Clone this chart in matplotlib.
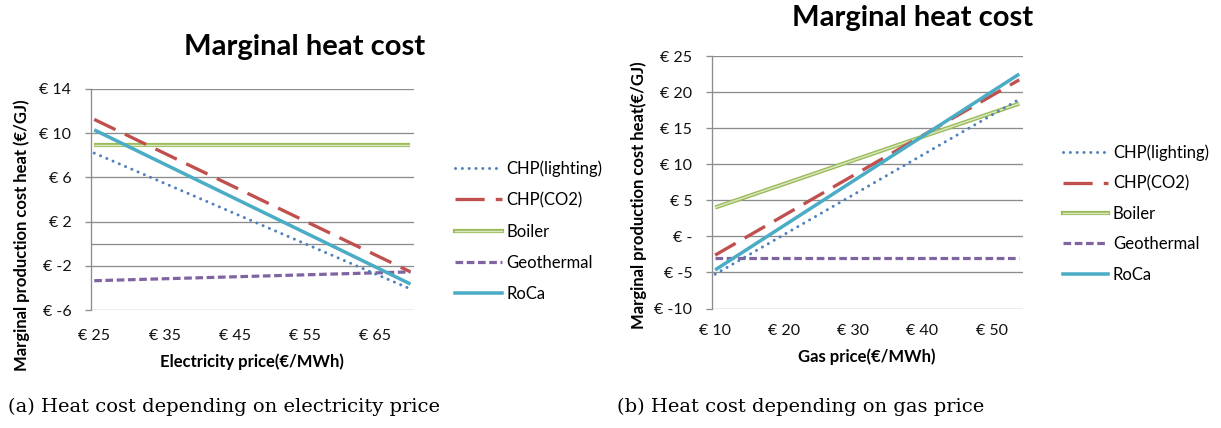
import numpy as np
import matplotlib
matplotlib.use("Agg")
import matplotlib.pyplot as plt
from matplotlib.lines import Line2D
from matplotlib.legend_handler import HandlerTuple

plt.rcParams['font.family'] = ['Lato', 'DejaVu Sans']
plt.rcParams['lines.scale_dashes'] = False

# ---------------- data ----------------
series_names = ["CHP(lighting)", "CHP(CO2)", "Boiler", "Geothermal", "RoCa"]

# (a) electricity price
elec_x = [25, 70]
chp_light_e = [8.2, -4.1]
chp_co2_e = [11.25, -2.55]
boiler_e = [8.9, 8.9]
geo_e = [-3.35, -2.55]
roca_e = [10.3, -3.65]
elec_xticks = [25, 35, 45, 55, 65]
elec_xticklabels = ["€ 25", "€ 35", "€ 45", "€ 55", "€ 65"]
elec_yticks = [-6, -2, 2, 6, 10, 14]
elec_yticklabels = ["€ -6", "€ -2", "€ 2", "€ 6", "€ 10", "€ 14"]

# (b) gas price
gas_x = [10, 54]
chp_light_g = [-5.25, 19.0]
chp_co2_g = [-2.6, 21.7]
boiler_g = [4.0, 18.4]
geo_g = [-3.0, -3.0]
roca_g = [-4.65, 22.5]
gas_xticks = [10, 20, 30, 40, 50]
gas_xticklabels = ["€ 10", "€ 20", "€ 30", "€ 40", "€ 50"]
gas_yticks = [-10, -5, 0, 5, 10, 15, 20, 25]
gas_yticklabels = ["€ -10", "€ -5", "€ -", "€ 5", "€ 10", "€ 15", "€ 20", "€ 25"]

# ---------------- styles ----------------
C_BLUE = '#4F81BD'
C_RED = '#C0504D'
C_GREEN = '#9BBB59'
C_GREEN_IN = '#DCE8C4'
C_PURPLE = '#8064A2'
C_CYAN = '#4BACC6'
GRID = '#8C8C8C'

PX = 0.72  # points per pixel at dpi 100
TICK_FS = 11.5
LEG_FS = 12
LAB_FS = 12
FSPX = LEG_FS / 0.72

W, H = 1221, 428
fig = plt.figure(figsize=(W / 100, H / 100), dpi=100)


def fx(px):
    return px / W


def fy(py):
    return (H - py) / H


def draw(ax, x, light, co2, boiler, geo, roca):
    ax.plot(x, light, color=C_BLUE, lw=3.0 * PX, linestyle=(0, (0.1, 4.8)),
            dash_capstyle='round', zorder=5)
    ax.plot(x, co2, color=C_RED, lw=3.3 * PX, linestyle=(0, (17, 7.5)),
            dash_capstyle='butt', zorder=4)
    ax.plot(x, boiler, color=C_GREEN, lw=4.2 * PX, solid_capstyle='butt', zorder=3)
    ax.plot(x, boiler, color=C_GREEN_IN, lw=1.4 * PX, solid_capstyle='butt', zorder=3)
    ax.plot(x, geo, color=C_PURPLE, lw=3.2 * PX, linestyle=(0, (5.5, 2.6)),
            dash_capstyle='butt', zorder=4)
    ax.plot(x, roca, color=C_CYAN, lw=3.5 * PX, solid_capstyle='butt', zorder=6)


def style(ax, xlim, ylim, xt, xtl, yt, ytl, xpad):
    ax.set_xlim(*xlim)
    ax.set_ylim(*ylim)
    ax.set_xticks(xt)
    ax.set_xticklabels(xtl)
    ax.set_yticks(yt)
    ax.set_yticklabels(ytl)
    for s in ['top', 'right', 'bottom']:
        ax.spines[s].set_visible(False)
    ax.spines['left'].set_color(GRID)
    ax.spines['left'].set_linewidth(1.3 * PX)
    ax.grid(axis='y', color=GRID, lw=1.3 * PX)
    ax.set_axisbelow(True)
    ax.tick_params(axis='y', length=4, width=1.3 * PX, color=GRID, pad=10,
                   labelsize=TICK_FS, labelcolor='#111111')
    ax.tick_params(axis='x', length=0, pad=xpad, labelsize=TICK_FS, labelcolor='#111111')
    ax.set_facecolor('none')


# ---------- left chart ----------
axL = fig.add_axes([fx(90.7), fy(310), fx(414) - fx(90.7), fy(89) - fy(310)])
style(axL, (24.5, 70.5), (-6, 14), elec_xticks, elec_xticklabels,
      elec_yticks, elec_yticklabels, xpad=14)
axL.axhline(0, color=GRID, lw=1.3 * PX, zorder=1)
draw(axL, elec_x, chp_light_e, chp_co2_e, boiler_e, geo_e, roca_e)

# ---------- right chart ----------
axR = fig.add_axes([fx(711.7), fy(308.5), fx(1022.7) - fx(711.7), fy(56) - fy(308.5)])
style(axR, (9.5, 54.5), (-10, 25), gas_xticks, gas_xticklabels,
      gas_yticks, gas_yticklabels, xpad=11)
draw(axR, gas_x, chp_light_g, chp_co2_g, boiler_g, geo_g, roca_g)

# ---------- titles / labels ----------
fig.text(fx(305), fy(47), "Marginal heat cost", ha='center', va='center',
         fontsize=21, fontweight='bold')
fig.text(fx(913), fy(18), "Marginal heat cost", ha='center', va='center',
         fontsize=21, fontweight='bold')
fig.text(fx(252), fy(362), "Electricity price(€/MWh)", ha='center', va='center',
         fontsize=LAB_FS, fontweight='bold')
fig.text(fx(867), fy(357), "Gas price(€/MWh)", ha='center', va='center',
         fontsize=LAB_FS, fontweight='bold')
fig.text(fx(22), fy(235), "Marginal production cost heat (€/GJ)", ha='center',
         va='center', rotation=90, fontsize=LAB_FS, fontweight='bold')
fig.text(fx(639), fy(195), "Marginal production cost heat(€/GJ)", ha='center',
         va='center', rotation=90, fontsize=LAB_FS, fontweight='bold')

# ---------- legends ----------
def handles():
    h_light = Line2D([], [], color=C_BLUE, lw=3.0 * PX, linestyle=(0, (0.1, 4.8)),
                     dash_capstyle='round')
    h_co2 = Line2D([], [], color=C_RED, lw=3.3 * PX, linestyle=(0, (21, 8)),
                   dash_capstyle='butt')
    h_b1 = Line2D([], [], color=C_GREEN, lw=4.2 * PX)
    h_b2 = Line2D([], [], color=C_GREEN_IN, lw=1.4 * PX)
    h_geo = Line2D([], [], color=C_PURPLE, lw=3.2 * PX, linestyle=(0, (5.5, 2.6)),
                   dash_capstyle='butt')
    h_roca = Line2D([], [], color=C_CYAN, lw=3.5 * PX)
    return [h_light, h_co2, (h_b1, h_b2), h_geo, h_roca]


for x0, ymid, hl, sp in [(455, 231.2, 46.7, 0.92), (1062.7, 213.5, 45.3, 0.86)]:
    fig.legend(handles(), series_names, loc='center left',
               bbox_to_anchor=(fx(x0), fy(ymid)), bbox_transform=fig.transFigure,
               frameon=False, fontsize=LEG_FS, handlelength=hl / FSPX,
               handletextpad=0.3, labelspacing=sp, borderpad=0, borderaxespad=0,
               handler_map={tuple: HandlerTuple(ndivide=1)})

# ---------- captions ----------
fig.text(fx(8), fy(407), "(a) Heat cost depending on electricity price",
         ha='left', va='center', fontsize=14, family='DejaVu Serif')
fig.text(fx(617), fy(407), "(b) Heat cost depending on gas price",
         ha='left', va='center', fontsize=14, family='DejaVu Serif')

fig.savefig("out.png", dpi=100)
